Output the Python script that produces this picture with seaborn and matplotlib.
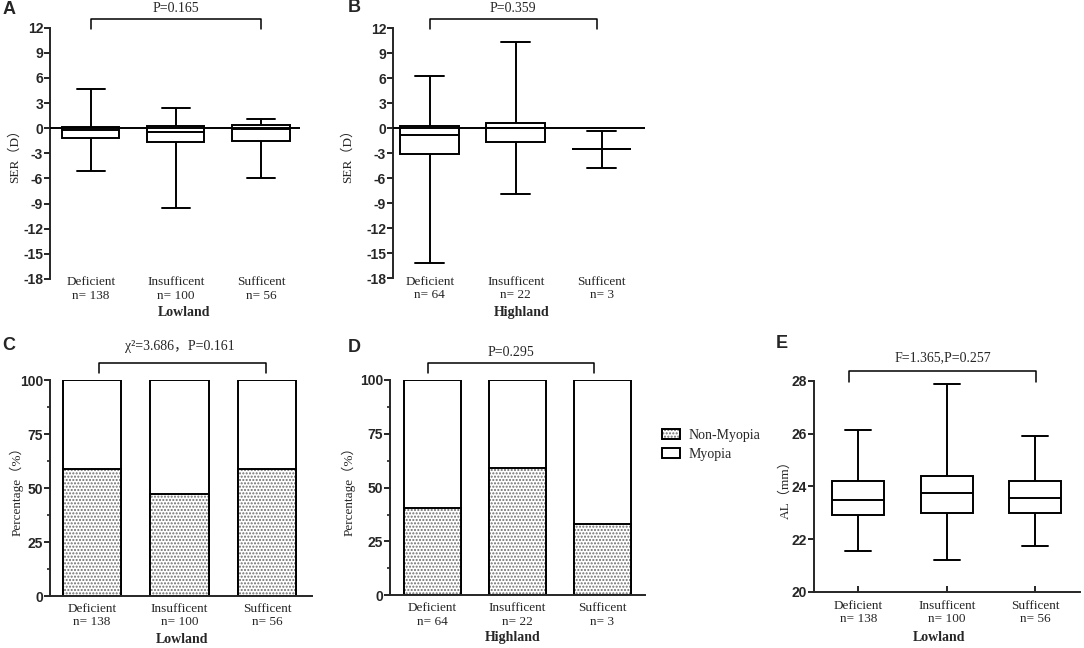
import numpy as np
import pandas as pd
import matplotlib
matplotlib.use('Agg')
import matplotlib.pyplot as plt
import matplotlib.transforms as mtransforms
from matplotlib.patches import Patch
from matplotlib.ticker import MultipleLocator
import seaborn as sns

groups = ['Deficient', 'Insufficent', 'Sufficent']
n_lowland = [138, 100, 56]
n_highland = [64, 22, 3]

# SER (D), lowland: min / q1 / median / q3 / max
ser_low_min = [-5.1, -9.5, -5.9]
ser_low_q1 = [-1.2, -1.7, -1.55]
ser_low_med = [-0.2, -0.4, -0.1]
ser_low_q3 = [0.2, 0.3, 0.4]
ser_low_max = [4.7, 2.4, 1.1]

# SER (D), highland
ser_high_min = [-16.2, -7.9, -4.8]
ser_high_q1 = [-3.1, -1.6, -2.5]
ser_high_med = [-0.8, 0.0, -2.5]
ser_high_q3 = [0.3, 0.6, -2.5]
ser_high_max = [6.3, 10.3, -0.3]

# AL (mm), lowland
al_low_min = [21.55, 21.2, 21.75]
al_low_q1 = [22.9, 23.0, 23.0]
al_low_med = [23.5, 23.75, 23.55]
al_low_q3 = [24.2, 24.4, 24.2]
al_low_max = [26.15, 27.9, 25.9]

# % non-myopia (rest is myopia)
nonmyopia_low = [58.7, 47.0, 58.9]
nonmyopia_high = [40.6, 59.1, 33.3]

SERIF = ['Liberation Serif', 'Noto Sans CJK SC']
SANS = 'Liberation Sans'
W, H = 1084, 648

sns.set_style('ticks')
plt.rcParams['font.family'] = SERIF
plt.rcParams['axes.unicode_minus'] = False
plt.rcParams['hatch.linewidth'] = 1.0


def five_num_frame(mins, q1s, meds, q3s, maxs):
    rows = []
    for g, a, b, c, d, e in zip(groups, mins, q1s, meds, q3s, maxs):
        for v in (a, b, c, d, e):
            rows.append({'group': g, 'value': v})
    return pd.DataFrame(rows)


def px_axes(fig, left, top, right, bottom):
    return fig.add_axes([left / W, 1 - bottom / H, (right - left) / W, (bottom - top) / H])


def style_axes(ax, ns, xlabel, ylabel, bottom_spine, xlab_pos, ylab_x):
    sns.despine(ax=ax, bottom=not bottom_spine)
    for s in ax.spines.values():
        s.set_linewidth(1.4)
    ax.set_xticks([0, 1, 2])
    ax.set_xticklabels([f'{g}\nn= {n}' for g, n in zip(groups, ns)],
                       family=SERIF, fontsize=9.5, linespacing=1.15)
    ax.tick_params(axis='y', length=4, width=1.4, labelsize=10, pad=1)
    ax.set_xlabel(xlabel, family=SERIF, fontsize=10, fontweight='bold')
    ax.set_ylabel(ylabel, family=SERIF, fontsize=9.5)
    ax.xaxis.set_label_coords(xlab_pos[0], xlab_pos[1])
    ax.yaxis.set_label_coords(ylab_x, 0.5)


def draw_box(ax, df, width):
    sns.boxplot(data=df, x='group', y='value', order=groups, whis=(0, 100), width=width,
                color='white', linecolor='black', linewidth=1.4, ax=ax)


def bracket(ax, x0, x1, y_leg, y_top, text, ty, tx=None):
    tr = mtransforms.blended_transform_factory(ax.transData, ax.transAxes)
    ax.plot([x0, x0, x1, x1], [y_leg, y_top, y_top, y_leg], color='black', lw=1.1,
            transform=tr, clip_on=False)
    ax.text((x0 + x1) / 2 if tx is None else tx, ty, text, transform=tr,
            ha='center', va='center', fontsize=10, family=SERIF)


def stacked_bars(ax, values, width):
    sns.barplot(x=groups, y=[100] * 3, color='white', edgecolor='black', linewidth=1.4,
                width=width, saturation=1, ax=ax)
    sns.barplot(x=groups, y=values, color='white', edgecolor='#6e6e6e', linewidth=0,
                hatch='.....', width=width, saturation=1, ax=ax)
    sns.barplot(x=groups, y=values, fill=False, edgecolor='black', linewidth=1.4,
                width=width, ax=ax)


fig = plt.figure(figsize=(W / 100, H / 100), dpi=100)

# A: SER lowland
axA = px_axes(fig, 50, 27.7, 300, 279)
draw_box(axA, five_num_frame(ser_low_min, ser_low_q1, ser_low_med, ser_low_q3, ser_low_max), 0.67)
axA.axhline(0, color='black', lw=1.4, zorder=5)
axA.set_ylim(-18, 12)
axA.set_xlim(-0.479, 2.458)
axA.yaxis.set_major_locator(MultipleLocator(3))
style_axes(axA, n_lowland, 'Lowland', 'SER（D）', False, (0.536, -0.107), -0.116)
axA.tick_params(axis='x', length=0, pad=-2)
bracket(axA, 0, 2, 0.994, 1.033, 'P=0.165', 1.076)

# B: SER highland
axB = px_axes(fig, 393, 28.3, 645, 278.3)
draw_box(axB, five_num_frame(ser_high_min, ser_high_q1, ser_high_med, ser_high_q3, ser_high_max), 0.686)
axB.axhline(0, color='black', lw=1.4, zorder=5)
axB.set_ylim(-18, 12)
axB.set_xlim(-0.427, 2.503)
axB.yaxis.set_major_locator(MultipleLocator(3))
style_axes(axB, n_highland, 'Highland', 'SER（D）', False, (0.512, -0.111), -0.157)
axB.tick_params(axis='x', length=0, pad=-2)
bracket(axB, 0, 1.94, 0.996, 1.036, 'P=0.359', 1.081)

# C: myopia share lowland
axC = px_axes(fig, 50, 380, 311.7, 596)
stacked_bars(axC, nonmyopia_low, 0.664)
axC.set_ylim(0, 100)
axC.set_xlim(-0.476, 2.506)
axC.yaxis.set_major_locator(MultipleLocator(25))
axC.yaxis.set_minor_locator(MultipleLocator(12.5))
style_axes(axC, n_lowland, 'Lowland', 'Percentage（%）', True, (0.504, -0.171), -0.10)
axC.tick_params(axis='x', length=0, pad=5)
axC.tick_params(axis='y', which='minor', length=2.5, width=1.2)
bracket(axC, 0.08, 1.98, 1.034, 1.080, 'χ²=3.686，P=0.161', 1.154, tx=1.0)

# D: myopia share highland
axD = px_axes(fig, 390, 380, 645, 595.3)
stacked_bars(axD, nonmyopia_high, 0.667)
axD.set_ylim(0, 100)
axD.set_xlim(-0.497, 2.502)
axD.yaxis.set_major_locator(MultipleLocator(25))
axD.yaxis.set_minor_locator(MultipleLocator(12.5))
style_axes(axD, n_highland, 'Highland', 'Percentage（%）', True, (0.48, -0.166), -0.136)
axD.tick_params(axis='x', length=0, pad=5)
axD.tick_params(axis='y', which='minor', length=2.5, width=1.2)
bracket(axD, -0.05, 1.9, 1.031, 1.078, 'P=0.295', 1.129)

hatch_patch = Patch(facecolor='white', edgecolor='#6e6e6e', hatch='.....', lw=0)
edge_patch = Patch(facecolor='none', edgecolor='black', lw=1.4)
fig.legend(handles=[(hatch_patch, edge_patch), Patch(facecolor='white', edgecolor='black', lw=1.4)],
           labels=['Non-Myopia', 'Myopia'], loc='upper left',
           bbox_to_anchor=(655 / W, 1 - 422 / H), frameon=False,
           prop={'family': SERIF, 'size': 10}, handlelength=1.3, handleheight=0.7,
           handletextpad=0.6, labelspacing=0.45, borderpad=0)

# E: AL lowland
axE = px_axes(fig, 814, 381, 1080, 591.7)
draw_box(axE, five_num_frame(al_low_min, al_low_q1, al_low_med, al_low_q3, al_low_max), 0.588)
axE.set_ylim(20, 28)
axE.set_xlim(-0.501, 2.506)
axE.yaxis.set_major_locator(MultipleLocator(2))
style_axes(axE, n_lowland, 'Lowland', 'AL（mm）', True, (0.47, -0.187), -0.085)
axE.tick_params(axis='x', direction='in', length=4, width=1.4, pad=6)
bracket(axE, -0.1, 2.01, 0.994, 1.047, 'F=1.365,P=0.257', 1.111)

# panel letters
for letter, x, y in [('A', 3, 10), ('B', 348, 8), ('C', 2, 346), ('D', 348, 347.5), ('E', 776, 344)]:
    fig.text(x / W, 1 - y / H, letter, family=SANS, fontweight='bold', fontsize=13,
             ha='left', va='center')

# bold sans y tick labels (ticks exist only after a draw)
fig.canvas.draw()
for ax in (axA, axB, axC, axD, axE):
    for lab in ax.get_yticklabels():
        lab.set_family(SANS)
        lab.set_fontweight('bold')

fig.savefig('out.png', dpi=100)
